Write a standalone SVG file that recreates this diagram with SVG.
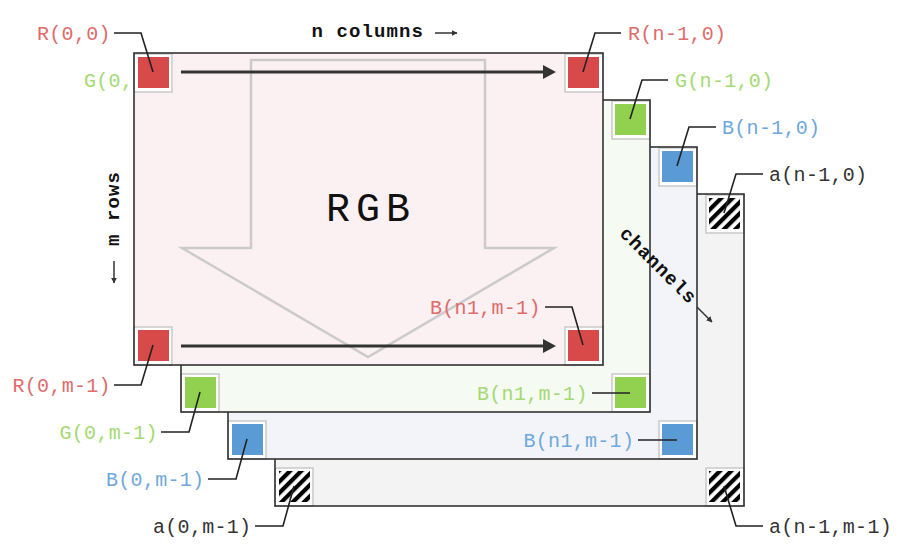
<svg xmlns="http://www.w3.org/2000/svg" width="900" height="552" viewBox="0 0 900 552">
<defs>
<style>
.layer-border{fill:none;stroke:#333;stroke-width:1.6}
.cell{fill:#fff;stroke:#c9c9c9;stroke-width:1.5}
.lbl{font-family:"Liberation Mono","DejaVu Sans Mono",monospace;font-size:20px;letter-spacing:0.3px}
.bold{font-family:"Liberation Mono","DejaVu Sans Mono",monospace;font-size:19px;font-weight:bold;letter-spacing:1.1px;fill:#111}
.red{fill:#e06b6b}
.green{fill:#a3da72}
.blue{fill:#6fa8dc}
.dark{fill:#333}
.leader{fill:none;stroke:#222;stroke-width:1.6}
.bigarrow{stroke:#333;stroke-width:3}
.small{stroke:#333;stroke-width:1.5;fill:none}
</style>
<pattern id="hatch" width="8" height="8" patternUnits="userSpaceOnUse" patternTransform="rotate(45)">
<rect width="8" height="8" fill="#fff"/>
<rect width="4.2" height="8" fill="#000"/>
</pattern>
<marker id="ah" viewBox="0 0 10 10" refX="9" refY="5" markerWidth="6" markerHeight="6" orient="auto" markerUnits="userSpaceOnUse">
<path d="M0,0 L10,5 L0,10 z" fill="#333"/>
</marker>
</defs>

<!-- alpha layer -->
<g id="layer-a">
<rect x="275" y="194" width="469" height="312" fill="#f3f3f3"/>
<g id="a-n1-0"><rect class="cell" x="706" y="195" width="38" height="38"/><rect x="709" y="198" width="31" height="31" fill="url(#hatch)"/></g>
<g id="a-0-m1"><rect class="cell" x="275" y="468" width="38" height="38"/><rect x="279" y="471" width="31" height="31" fill="url(#hatch)"/></g>
<g id="a-n1-m1"><rect class="cell" x="706" y="468" width="38" height="38"/><rect x="709" y="471" width="31" height="31" fill="url(#hatch)"/></g>
<rect class="layer-border" x="275" y="194" width="469" height="312"/>
<text class="lbl dark" x="769" y="180.5">a(n-1,0)</text>
<text class="lbl dark" x="153" y="532.5">a(0,m-1)</text>
<text class="lbl dark" x="769" y="532.5">a(n-1,m-1)</text>
</g>

<!-- blue layer -->
<g id="layer-b">
<rect x="228" y="147" width="469" height="312" fill="#f3f4fa"/>
<g id="b-n1-0"><rect class="cell" x="659" y="148" width="38" height="38"/><rect x="662" y="151" width="31" height="31" fill="#5b9bd5"/></g>
<g id="b-0-m1"><rect class="cell" x="228" y="421" width="38" height="38"/><rect x="232" y="424" width="31" height="31" fill="#5b9bd5"/></g>
<g id="b-n1-m1"><rect class="cell" x="659" y="421" width="38" height="38"/><rect x="662" y="424" width="31" height="31" fill="#5b9bd5"/></g>
<rect class="layer-border" x="228" y="147" width="469" height="312"/>
<text class="lbl blue" x="722" y="133.5">B(n-1,0)</text>
<text class="lbl blue" x="106" y="485.5">B(0,m-1)</text>
<text class="lbl blue" x="523.5" y="446.5">B(n1,m-1)</text>
</g>

<!-- green layer -->
<g id="layer-g">
<rect x="181" y="100" width="469" height="312" fill="#f5faf2"/>
<g id="g-n1-0"><rect class="cell" x="612" y="101" width="38" height="38"/><rect x="615" y="104" width="31" height="31" fill="#92d050"/></g>
<g id="g-0-m1"><rect class="cell" x="181" y="374" width="38" height="38"/><rect x="185" y="377" width="31" height="31" fill="#92d050"/></g>
<g id="g-n1-m1"><rect class="cell" x="612" y="374" width="38" height="38"/><rect x="615" y="377" width="31" height="31" fill="#92d050"/></g>
<rect class="layer-border" x="181" y="100" width="469" height="312"/>
<text class="lbl green" x="675" y="86.5">G(n-1,0)</text>
<text class="lbl green" x="84" y="86.5">G(0,</text>
<text class="lbl green" x="59.5" y="438.5">G(0,m-1)</text>
<text class="lbl green" x="477" y="399.5">B(n1,m-1)</text>
</g>

<!-- red layer -->
<g id="layer-r">
<rect x="134" y="53" width="469" height="312" fill="#fbf1f2"/>
<path d="M251,60 L485,60 L485,248 L554,248 L368,357 L182,248 L251,248 Z" fill="none" stroke="#cbcbcb" stroke-width="2.5"/>
<text x="371" y="221" text-anchor="middle" font-family="'Liberation Mono','DejaVu Sans Mono',monospace" font-size="40" letter-spacing="6" fill="#111">RGB</text>
<g id="r-0-0"><rect class="cell" x="134" y="54" width="38" height="38"/><rect x="138" y="57" width="31" height="31" fill="#d84a4a"/></g>
<g id="r-n1-0"><rect class="cell" x="565" y="54" width="38" height="38"/><rect x="568" y="57" width="31" height="31" fill="#d84a4a"/></g>
<g id="r-0-m1"><rect class="cell" x="134" y="327" width="38" height="38"/><rect x="138" y="330" width="31" height="31" fill="#d84a4a"/></g>
<g id="r-n1-m1"><rect class="cell" x="565" y="327" width="38" height="38"/><rect x="568" y="330" width="31" height="31" fill="#d84a4a"/></g>
<rect class="layer-border" x="134" y="53" width="469" height="312"/>
<text class="lbl red" x="37" y="39.5">R(0,0)</text>
<text class="lbl red" x="628" y="39.5">R(n-1,0)</text>
<text class="lbl red" x="12.5" y="391.5">R(0,m-1)</text>
<text class="lbl red" x="430" y="313.5">B(n1,m-1)</text>
</g>

<!-- axis labels -->
<g id="axis-labels">
<text class="bold" x="311.5" y="37">n columns</text>
<line class="small" x1="435" y1="33" x2="457" y2="33" marker-end="url(#ah)"/>
<text class="bold" transform="translate(119,246) rotate(-90)">m rows</text>
<line class="small" x1="114" y1="261" x2="114" y2="283" marker-end="url(#ah)"/>
<text class="bold" text-anchor="middle" transform="translate(657,267) rotate(45)" y="4">channels</text>
<line class="small" x1="697" y1="307" x2="712" y2="322" marker-end="url(#ah)"/>
</g>

<!-- connectors -->
<g id="connectors">
<line class="bigarrow" x1="181" y1="72" x2="545" y2="72"/>
<polygon points="543,65 556,72 543,79" fill="#333"/>
<line class="bigarrow" x1="181" y1="346" x2="545" y2="346"/>
<polygon points="543,339 556,346 543,353" fill="#333"/>
<polyline class="leader" points="114,33 141,33 153,72"/>
<polyline class="leader" points="621,33 595,33 583,72"/>
<polyline class="leader" points="668,80 642,80 630,119"/>
<polyline class="leader" points="716,127 689,127 677,166"/>
<polyline class="leader" points="763,174 736,174 724,213"/>
<polyline class="leader" points="114,385 141,385 153,345"/>
<polyline class="leader" points="161,432 189,432 200,392"/>
<polyline class="leader" points="208,479 236,479 247,439"/>
<polyline class="leader" points="255,526 283,526 294,486"/>
<polyline class="leader" points="545,307 572,307 583,345"/>
<polyline class="leader" points="592,393 630,393"/>
<polyline class="leader" points="638,440 677,440"/>
<polyline class="leader" points="763,526 736,526 724,486"/>
</g>
</svg>
